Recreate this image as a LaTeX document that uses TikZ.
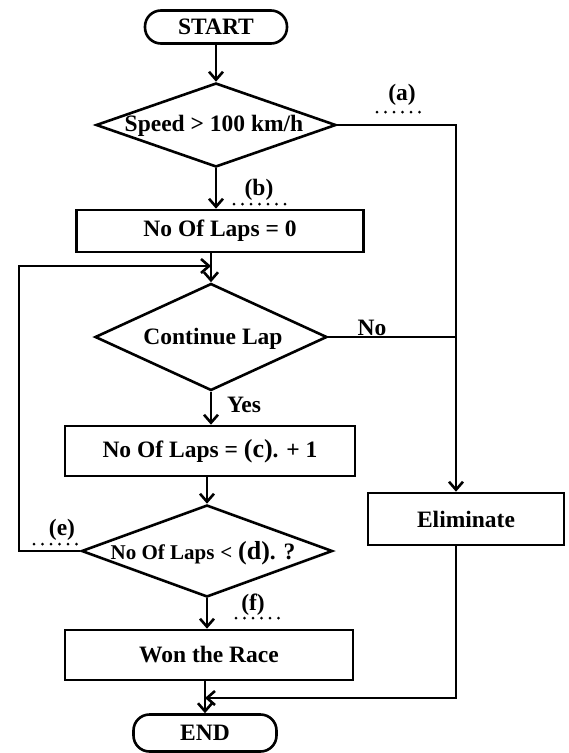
\documentclass[tikz,border=0pt]{standalone}
\usepackage{fontspec}
\setmainfont{Liberation Serif}
\usetikzlibrary{shapes.geometric,arrows.meta}
\begin{document}
\begin{tikzpicture}[x=1pt,y=-1pt,line width=2.6pt,
  every node/.style={font=\fontsize{23.5}{26}\selectfont\bfseries, inner sep=0pt},
  term/.style={draw, rectangle, rounded corners=16pt, minimum width=142pt, minimum height=33pt},
  proc/.style={draw, rectangle},
  dia/.style={draw, diamond, inner sep=0pt},
  arr/.style={-{Straight Barb[length=8pt,width=14pt]}},
  blank/.style={line width=3pt, line cap=round, dash pattern=on 0pt off 8.5pt}
]
\useasboundingbox (0,0) rectangle (569,753);
% terminals
\node[term] (start) at (216,27) {START};
\node[term, minimum width=143pt, minimum height=37pt] (end) at (205,733) {END};
% decisions
\node[dia, minimum width=240pt, minimum height=84pt] (d1) at (216,125) {};
\node (d1t) at (214,126) {Speed > 100 km/h};
\node[dia, minimum width=232pt, minimum height=107pt] (d2) at (211,337) {};
\node (d2t) at (213,339) {Continue Lap};
\node[dia, minimum width=251pt, minimum height=92pt] (d3) at (207,551) {};
\node (d3t) at (203,553) {{\fontsize{21}{24}\selectfont No Of Laps} {\fontsize{21}{24}\selectfont<} {\fontsize{26}{28}\selectfont(d)}. ?};
% processes
\node[proc, minimum width=287pt, minimum height=42pt] (b1) at (220,231) {No Of Laps = 0};
\node[proc, minimum width=290pt, minimum height=50pt] (bc) at (210,451) {No Of Laps = {\fontsize{26}{28}\selectfont(c)}. + 1};
\node[proc, minimum width=288pt, minimum height=50pt] (won) at (209,655) {Won the Race};
\node[proc, minimum width=196pt, minimum height=52pt] (elim) at (466,519) {Eliminate};
% helper coordinates
\coordinate (rx) at (456,0);
\coordinate (lp) at (19,266);
\coordinate (mgy) at (0,698);
% labels
\node (la) at (402,95) {(a)};
\node (lb) at (259,190) {(b)};
\node (le) at (62,530) {(e)};
\node (lf) at (253,605) {(f)};
\node (lno) at (372,328) {No};
\node (lyes) at (244,405) {Yes};
\draw[blank] (377,112) -- (425,112);
\draw[blank] (234,204) -- (286,204);
\draw[blank] (34,544) -- (80,544);
\draw[blank] (236,618) -- (284,618);
% connectors
\draw[arr] (start.south) -- (d1.north);
\draw[arr] (d1.south) -- (b1.north -| d1.south);
\draw[arr] (d2.north |- b1.south) -- (d2.north);
\draw[arr] (d2.south) -- (bc.north -| d2.south);
\draw[arr] (d3.north |- bc.south) -- (d3.north);
\draw[arr] (d3.south) -- (won.north -| d3.south);
\draw[arr] (end.north |- won.south) -- (end.north);
\draw[arr] (d3.west) -| (lp) -- (lp -| d2.north);
\draw[arr] (d1.east) -| (elim.north -| rx);
\draw (d2.east) -- (d2.east -| rx);
\draw[arr] (elim.south -| rx) |- (mgy -| end.north);
\end{tikzpicture}
\end{document}
